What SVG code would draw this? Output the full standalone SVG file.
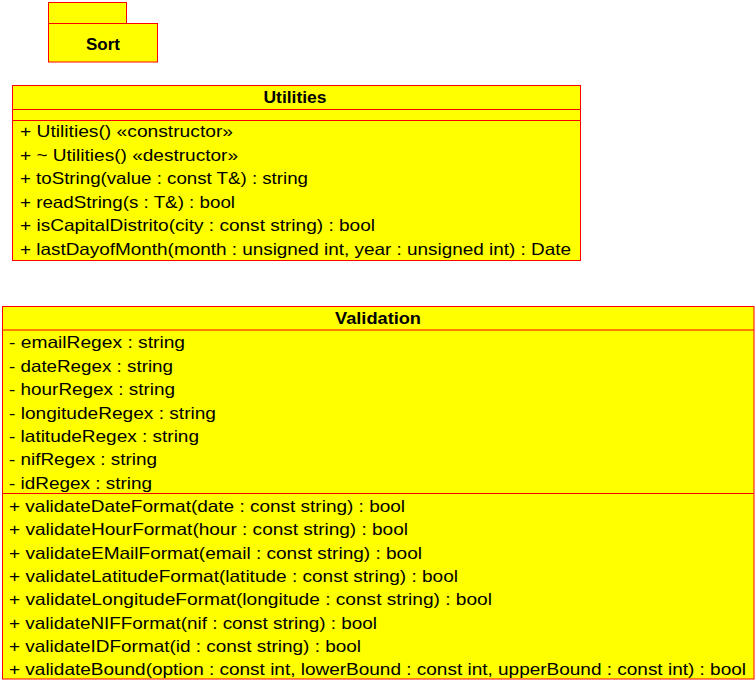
<svg xmlns="http://www.w3.org/2000/svg" width="756" height="681" viewBox="0 0 756 681">
<style>
.box{fill:#ffff00;stroke:#ff0000;stroke-width:1}
.ln{stroke:#ff0000;stroke-width:1}
text{font-family:"Liberation Sans",Arial,sans-serif;font-size:16.5px;fill:#000}
.t{font-weight:bold;text-anchor:middle;font-size:17px}
</style>
<rect width="756" height="681" fill="#fff"/>
<g id="Sort">
<rect class="box" x="48.5" y="2.5" width="78" height="21"/>
<rect class="box" x="48.5" y="23.5" width="109" height="38.5"/>
<text class="t" x="103" y="50">Sort</text>
</g>
<g id="Utilities">
<rect class="box" x="12.5" y="85.5" width="568" height="175"/>
<line class="ln" x1="12.5" y1="109.5" x2="580.5" y2="109.5"/>
<line class="ln" x1="12.5" y1="120.5" x2="580.5" y2="120.5"/>
<text class="t" x="295" y="103" textLength="63" lengthAdjust="spacingAndGlyphs">Utilities</text>
<text x="20" y="137" textLength="213" lengthAdjust="spacingAndGlyphs">+ Utilities() «constructor»</text>
<text x="20" y="160.5" textLength="218" lengthAdjust="spacingAndGlyphs">+ ~ Utilities() «destructor»</text>
<text x="20" y="184" textLength="288" lengthAdjust="spacingAndGlyphs">+ toString(value : const T&amp;) : string</text>
<text x="20" y="207.5" textLength="215" lengthAdjust="spacingAndGlyphs">+ readString(s : T&amp;) : bool</text>
<text x="20" y="231" textLength="355" lengthAdjust="spacingAndGlyphs">+ isCapitalDistrito(city : const string) : bool</text>
<text x="20" y="254.5" textLength="551" lengthAdjust="spacingAndGlyphs">+ lastDayofMonth(month : unsigned int, year : unsigned int) : Date</text>
</g>
<g id="Validation">
<rect class="box" x="2.5" y="306.5" width="751.5" height="372.5"/>
<line class="ln" x1="2.5" y1="330" x2="754" y2="330"/>
<line class="ln" x1="2.5" y1="493.5" x2="754" y2="493.5"/>
<text class="t" x="378" y="324" textLength="86" lengthAdjust="spacingAndGlyphs">Validation</text>
<text x="9" y="348" textLength="176" lengthAdjust="spacingAndGlyphs">- emailRegex : string</text>
<text x="9" y="371.5" textLength="164" lengthAdjust="spacingAndGlyphs">- dateRegex : string</text>
<text x="9" y="395" textLength="166" lengthAdjust="spacingAndGlyphs">- hourRegex : string</text>
<text x="9" y="418.5" textLength="207" lengthAdjust="spacingAndGlyphs">- longitudeRegex : string</text>
<text x="9" y="442" textLength="190" lengthAdjust="spacingAndGlyphs">- latitudeRegex : string</text>
<text x="9" y="465" textLength="148" lengthAdjust="spacingAndGlyphs">- nifRegex : string</text>
<text x="9" y="488.5" textLength="143" lengthAdjust="spacingAndGlyphs">- idRegex : string</text>
<text x="9" y="512" textLength="396" lengthAdjust="spacingAndGlyphs">+ validateDateFormat(date : const string) : bool</text>
<text x="9" y="535" textLength="399" lengthAdjust="spacingAndGlyphs">+ validateHourFormat(hour : const string) : bool</text>
<text x="9" y="558.5" textLength="413" lengthAdjust="spacingAndGlyphs">+ validateEMailFormat(email : const string) : bool</text>
<text x="9" y="582" textLength="449" lengthAdjust="spacingAndGlyphs">+ validateLatitudeFormat(latitude : const string) : bool</text>
<text x="9" y="605" textLength="483" lengthAdjust="spacingAndGlyphs">+ validateLongitudeFormat(longitude : const string) : bool</text>
<text x="9" y="628.5" textLength="368" lengthAdjust="spacingAndGlyphs">+ validateNIFFormat(nif : const string) : bool</text>
<text x="9" y="652" textLength="352" lengthAdjust="spacingAndGlyphs">+ validateIDFormat(id : const string) : bool</text>
<text x="9" y="675" textLength="737" lengthAdjust="spacingAndGlyphs">+ validateBound(option : const int, lowerBound : const int, upperBound : const int) : bool</text>
</g>
<g id="connectors"/>
</svg>
